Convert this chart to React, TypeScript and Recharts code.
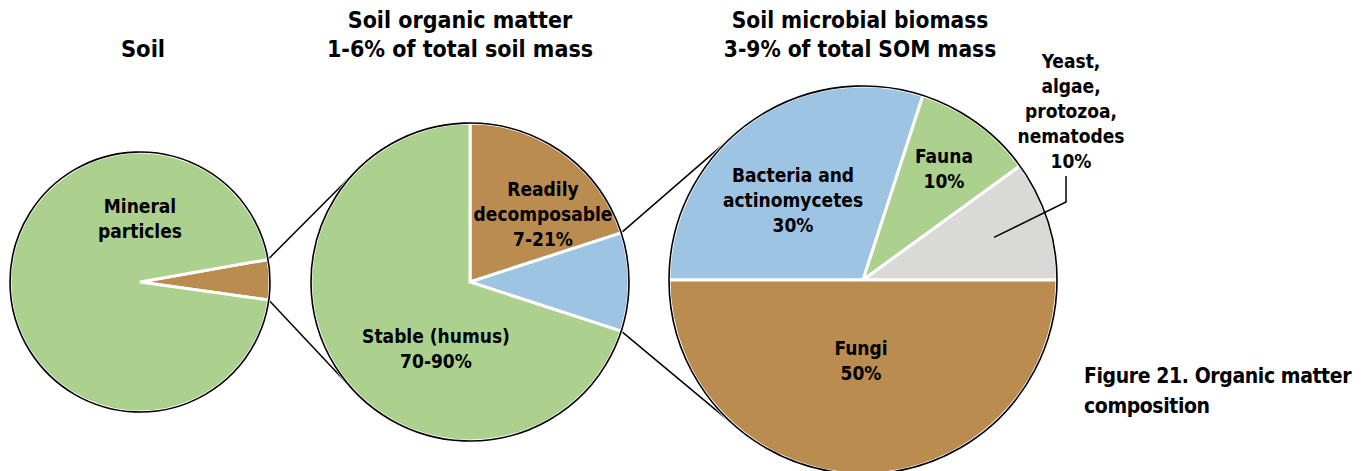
import React from "react";
import { PieChart, Pie, Cell } from "recharts";

// ---------- data ----------
const soilNames = ["Soil organic matter", "Mineral particles"];
const soilValues = [5, 95];

const somNames = ["Readily decomposable", "Soil microbial biomass", "Stable (humus)"];
const somValues = [20, 10, 70];

const microNames = ["Bacteria and actinomycetes", "Fauna", "Yeast, algae, protozoa, nematodes", "Fungi"];
const microValues = [30, 10, 10, 50];

const titleSoil = ["Soil"];
const titleSom = ["Soil organic matter", "1-6% of total soil mass"];
const titleMicro = ["Soil microbial biomass", "3-9% of total SOM mass"];
const caption = ["Figure 21. Organic matter", "composition"];

const soilLabels = [[], ["Mineral", "particles"]];
const somLabels = [["Readily", "decomposable", "7-21%"], [], ["Stable (humus)", "70-90%"]];
const microLabels = [["Bacteria and", "actinomycetes", "30%"], ["Fauna", "10%"], ["Yeast,", "algae,", "protozoa,", "nematodes", "10%"], ["Fungi", "50%"]];

// ---------- colours ----------
const GREEN = "#acd18e";
const BROWN = "#ba8c50";
const BLUE = "#9ec4e4";
const GRAY = "#d9d9d7";
const soilColors = [BROWN, GREEN];
const somColors = [BROWN, BLUE, GREEN];
const microColors = [BLUE, GREEN, GRAY, BROWN];

// ---------- layout ----------
const W = 1362;
const H = 471;
const FONT = "'DejaVu Sans Condensed', 'Liberation Sans Narrow', 'Arial Narrow', sans-serif";
const P1 = { cx: 140, cy: 282, r: 130, start: 10, end: -350 };
const P2 = { cx: 470, cy: 282, r: 159, start: 90, end: -270 };
const P3 = { cx: 863, cy: 280, r: 194, start: 180, end: -180 };
const LABEL_SIZE = 19;
const LABEL_LH = 25;
// label anchor offsets (first baseline) relative to pie centre
const soilLabelPos = [null, { dx: 0, dy: -69 }];
const somLabelPos = [{ dx: 73, dy: -86 }, null, { dx: -34, dy: 61 }];
const microLabelPos = [{ dx: -70, dy: -98 }, { dx: 81, dy: -117 }, { dx: 208, dy: -212 }, { dx: -2, dy: 75 }];

const toData = (names: string[], values: number[]) => names.map((name, i) => ({ name, value: values[i] }));
const soilData = toData(soilNames, soilValues);
const somData = toData(somNames, somValues);
const microData = toData(microNames, microValues);

const RAD = Math.PI / 180;
function bounds(values: number[], start: number, end: number) {
  const total = values.reduce((a, b) => a + b, 0);
  let acc = 0;
  return values.map((v) => {
    const a0 = start + (acc / total) * (end - start);
    acc += v;
    const a1 = start + (acc / total) * (end - start);
    return [a0, a1];
  });
}
const polar = (c: { cx: number; cy: number }, r: number, a: number) => ({
  x: c.cx + r * Math.cos(a * RAD),
  y: c.cy - r * Math.sin(a * RAD),
});
function tangent(p: { x: number; y: number }, c: { cx: number; cy: number; r: number }, upper: boolean) {
  const dx = c.cx - p.x;
  const dy = c.cy - p.y;
  const dist = Math.hypot(dx, dy);
  const L = Math.sqrt(dist * dist - c.r * c.r);
  const alpha = Math.asin(c.r / dist);
  const th = Math.atan2(dy, dx) + (upper ? -alpha : alpha);
  return { x: p.x + L * Math.cos(th), y: p.y + L * Math.sin(th) };
}

function MultiText({ x, y, lines, size, lh, anchor = "middle", spacing = 0 }: any) {
  return (
    <text
      x={x}
      y={y}
      textAnchor={anchor}
      fontFamily={FONT}
      fontWeight="bold"
      fontSize={size}
      fill="#000"
      letterSpacing={spacing}
    >
      {lines.map((l: string, i: number) => (
        <tspan key={i} x={x} dy={i === 0 ? 0 : lh}>
          {l}
        </tspan>
      ))}
    </text>
  );
}

function makeLabel(labels: string[][], pos: any[], leaderIndex = -1) {
  return (props: any) => {
    const i = props.index;
    const p = pos[i];
    if (!p || !labels[i] || labels[i].length === 0) return <g key={`l${i}`} />;
    const x = props.cx + p.dx;
    const y = props.cy + p.dy;
    let leader = null;
    if (i === leaderIndex) {
      const top = y + (labels[i].length - 1) * LABEL_LH + 8;
      const inner = polar({ cx: props.cx, cy: props.cy }, props.outerRadius * 0.71, props.midAngle);
      leader = (
        <polyline
          points={`${x - 5},${top} ${x - 5},${top + 26} ${inner.x},${inner.y}`}
          fill="none"
          stroke="#000"
          strokeWidth={1.5}
        />
      );
    }
    return (
      <g key={`l${i}`}>
        <MultiText x={x} y={y} lines={labels[i]} size={LABEL_SIZE} lh={LABEL_LH} />
        {leader}
      </g>
    );
  };
}

export default function App() {
  const b1 = bounds(soilValues, P1.start, P1.end)[0];
  const b2 = bounds(somValues, P2.start, P2.end)[1];
  const a1 = polar(P1, P1.r, b1[0]);
  const a2 = polar(P1, P1.r, b1[1]);
  const c1 = polar(P2, P2.r, b2[0]);
  const c2 = polar(P2, P2.r, b2[1]);
  const t1 = tangent(a1, P2, true);
  const t2 = tangent(a2, P2, false);
  const t3 = tangent(c1, P3, true);
  const t4 = tangent(c2, P3, false);

  const outline = (P: any, key: string) => (
    <Pie
      key={key}
      data={[{ name: "outline", value: 1 }]}
      dataKey="value"
      cx={P.cx}
      cy={P.cy}
      innerRadius={P.r - 0.01}
      outerRadius={P.r}
      startAngle={0}
      endAngle={360}
      fill="none"
      stroke="#000"
      strokeWidth={1.6}
      isAnimationActive={false}
      label={false}
      labelLine={false}
    />
  );

  return (
    <div style={{ position: "absolute", left: 0, top: 0, width: W, height: H, background: "#fff" }}>
      <PieChart width={W} height={H} margin={{ top: 0, right: 0, bottom: 0, left: 0 }}>
        <Pie
          data={soilData}
          dataKey="value"
          cx={P1.cx}
          cy={P1.cy}
          outerRadius={P1.r}
          startAngle={P1.start}
          endAngle={P1.end}
          stroke="#fff"
          strokeWidth={3}
          isAnimationActive={false}
          labelLine={false}
          label={makeLabel(soilLabels, soilLabelPos)}
        >
          {soilData.map((d, i) => (
            <Cell key={i} fill={soilColors[i]} />
          ))}
        </Pie>
        <Pie
          data={somData}
          dataKey="value"
          cx={P2.cx}
          cy={P2.cy}
          outerRadius={P2.r}
          startAngle={P2.start}
          endAngle={P2.end}
          stroke="#fff"
          strokeWidth={3}
          isAnimationActive={false}
          labelLine={false}
          label={makeLabel(somLabels, somLabelPos)}
        >
          {somData.map((d, i) => (
            <Cell key={i} fill={somColors[i]} />
          ))}
        </Pie>
        <Pie
          data={microData}
          dataKey="value"
          cx={P3.cx}
          cy={P3.cy}
          outerRadius={P3.r}
          startAngle={P3.start}
          endAngle={P3.end}
          stroke="#fff"
          strokeWidth={3}
          isAnimationActive={false}
          labelLine={false}
          label={makeLabel(microLabels, microLabelPos, 2)}
        >
          {microData.map((d, i) => (
            <Cell key={i} fill={microColors[i]} />
          ))}
        </Pie>
        {outline(P1, "o1")}
        {outline(P2, "o2")}
        {outline(P3, "o3")}
        <g>
          <line x1={a1.x} y1={a1.y} x2={t1.x} y2={t1.y} stroke="#000" strokeWidth={1.5} />
          <line x1={a2.x} y1={a2.y} x2={t2.x} y2={t2.y} stroke="#000" strokeWidth={1.5} />
          <line x1={c1.x} y1={c1.y} x2={t3.x} y2={t3.y} stroke="#000" strokeWidth={1.5} />
          <line x1={c2.x} y1={c2.y} x2={t4.x} y2={t4.y} stroke="#000" strokeWidth={1.5} />
          <MultiText x={143} y={57} lines={titleSoil} size={23.5} lh={30} />
          <MultiText x={460} y={28} lines={titleSom} size={23} lh={29} />
          <MultiText x={860} y={28} lines={titleMicro} size={22.5} lh={29} />
          <MultiText x={1084} y={383} lines={caption} size={21} lh={30} anchor="start" spacing={-0.4} />
        </g>
      </PieChart>
    </div>
  );
}
